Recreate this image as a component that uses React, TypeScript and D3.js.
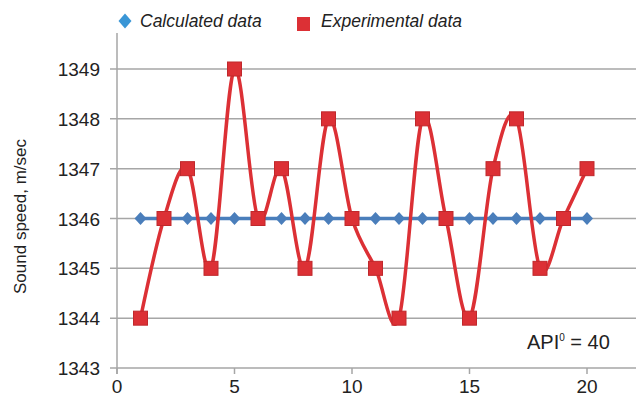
import { useEffect, useRef } from "react"
import * as d3 from "d3"

const xValues = [1, 2, 3, 4, 5, 6, 7, 8, 9, 10, 11, 12, 13, 14, 15, 16, 17, 18, 19, 20]
const calculated = [1346, 1346, 1346, 1346, 1346, 1346, 1346, 1346, 1346, 1346, 1346, 1346, 1346, 1346, 1346, 1346, 1346, 1346, 1346, 1346]
const experimental = [1344, 1346, 1347, 1345, 1349, 1346, 1347, 1345, 1348, 1346, 1345, 1344, 1348, 1346, 1344, 1347, 1348, 1345, 1346, 1347]
const xTicks = [0, 5, 10, 15, 20]
const yTicks = [1343, 1344, 1345, 1346, 1347, 1348, 1349]

const width = 636
const height = 400
const font = "Liberation Sans, Arial, sans-serif"
const blue = "#4a7ebb"
const red = "#dc3035"

// diamond shape centred on 0,0
const diamondPath = (w: number, h: number) => `M0,${-h / 2}L${w / 2},0L0,${h / 2}L${-w / 2},0Z`

export default function App() {
  const svgRef = useRef<SVGSVGElement>(null)

  useEffect(() => {
    if (!svgRef.current) return
    const svg = d3.select(svgRef.current)
    svg.selectAll("*").remove()

    const x = d3.scaleLinear().domain([0, 22]).range([117, 634])
    const y = d3.scaleLinear().domain([1343, 1349]).range([368, 69])
    const top = 33

    // grid lines
    svg
      .append("g")
      .selectAll("line")
      .data(yTicks)
      .enter()
      .append("line")
      .attr("x1", 110)
      .attr("x2", width)
      .attr("y1", (d) => y(d))
      .attr("y2", (d) => y(d))
      .attr("stroke", "#a6a6a6")
      .attr("stroke-width", 1.5)

    // y axis line
    svg
      .append("line")
      .attr("x1", x(0))
      .attr("x2", x(0))
      .attr("y1", top)
      .attr("y2", y(1343) + 6)
      .attr("stroke", "#a6a6a6")
      .attr("stroke-width", 1.5)

    // x ticks
    svg
      .append("g")
      .selectAll("line")
      .data(xTicks)
      .enter()
      .append("line")
      .attr("x1", (d) => x(d))
      .attr("x2", (d) => x(d))
      .attr("y1", y(1343))
      .attr("y2", y(1343) + 6)
      .attr("stroke", "#a6a6a6")
      .attr("stroke-width", 1.5)

    // tick labels
    svg
      .append("g")
      .selectAll("text")
      .data(yTicks)
      .enter()
      .append("text")
      .attr("x", 100)
      .attr("y", (d) => y(d) + 7)
      .attr("text-anchor", "end")
      .attr("font-family", font)
      .attr("font-size", 19)
      .attr("fill", "#222")
      .text((d) => d)

    svg
      .append("g")
      .selectAll("text")
      .data(xTicks)
      .enter()
      .append("text")
      .attr("x", (d) => x(d))
      .attr("y", 393)
      .attr("text-anchor", "middle")
      .attr("font-family", font)
      .attr("font-size", 19)
      .attr("fill", "#222")
      .text((d) => d)

    // axis title
    svg
      .append("text")
      .attr("transform", `translate(26,${y(1346) - 2}) rotate(-90)`)
      .attr("text-anchor", "middle")
      .attr("font-family", font)
      .attr("font-size", 17)
      .attr("fill", "#222")
      .text("Sound speed, m/sec")

    // calculated series
    const lineCalc = d3
      .line<number>()
      .x((_, i) => x(xValues[i]))
      .y((d) => y(d))
    svg
      .append("path")
      .attr("d", lineCalc(calculated))
      .attr("fill", "none")
      .attr("stroke", blue)
      .attr("stroke-width", 3.5)

    svg
      .append("g")
      .selectAll("path")
      .data(calculated)
      .enter()
      .append("path")
      .attr("d", diamondPath(12, 13))
      .attr("transform", (d, i) => `translate(${x(xValues[i])},${y(d)})`)
      .attr("fill", blue)

    // experimental series
    const lineExp = d3
      .line<number>()
      .x((_, i) => x(xValues[i]))
      .y((d) => y(d))
      .curve(d3.curveCardinal.tension(0))
    svg
      .append("path")
      .attr("d", lineExp(experimental))
      .attr("fill", "none")
      .attr("stroke", red)
      .attr("stroke-width", 3.5)

    svg
      .append("g")
      .selectAll("rect")
      .data(experimental)
      .enter()
      .append("rect")
      .attr("x", (_, i) => x(xValues[i]) - 7)
      .attr("y", (d) => y(d) - 7)
      .attr("width", 14)
      .attr("height", 14)
      .attr("fill", red)
      .attr("stroke", "#c0282c")
      .attr("stroke-width", 1)

    // legend
    const legend = svg.append("g")
    legend
      .append("path")
      .attr("d", diamondPath(13, 15))
      .attr("transform", "translate(125,21)")
      .attr("fill", "#3a96d6")
    legend
      .append("text")
      .attr("x", 140)
      .attr("y", 27)
      .attr("font-family", font)
      .attr("font-size", 17.5)
      .attr("font-style", "italic")
      .attr("fill", "#222")
      .text("Calculated data")
    legend
      .append("rect")
      .attr("x", 297)
      .attr("y", 17)
      .attr("width", 13)
      .attr("height", 14)
      .attr("fill", red)
    legend
      .append("text")
      .attr("x", 321)
      .attr("y", 27)
      .attr("font-family", font)
      .attr("font-size", 17.5)
      .attr("font-style", "italic")
      .attr("fill", "#222")
      .text("Experimental data")

    // annotation
    const api = svg
      .append("text")
      .attr("x", 527)
      .attr("y", 349)
      .attr("font-family", font)
      .attr("font-size", 20)
      .attr("fill", "#222")
    api.append("tspan").text("API")
    api.append("tspan").attr("dy", -8).attr("font-size", 10).text("0")
    api.append("tspan").attr("dy", 8).text(" = 40")
  }, [])

  return (
    <svg
      ref={svgRef}
      width={width}
      height={height}
      style={{ position: "absolute", left: 0, top: 0, background: "#fff" }}
    />
  )
}
